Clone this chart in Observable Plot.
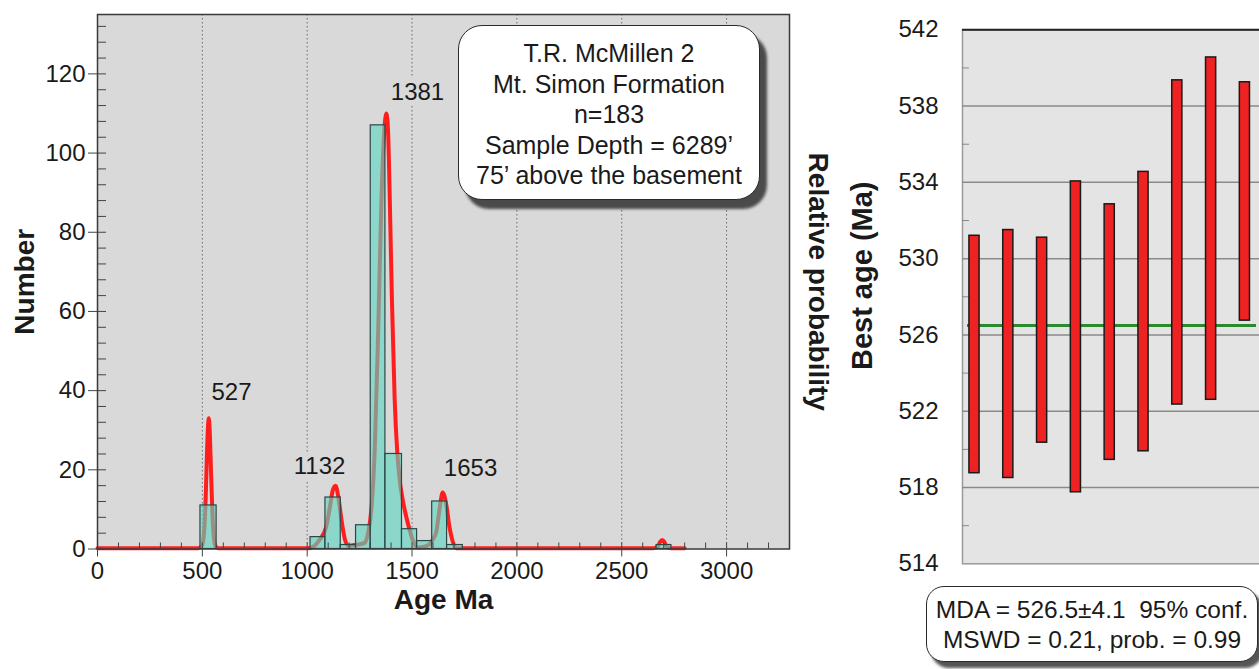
<!DOCTYPE html>
<html><head><meta charset="utf-8">
<script src="https://cdn.jsdelivr.net/npm/d3@7"></script>
<script src="https://cdn.jsdelivr.net/npm/@observablehq/plot@0.6"></script>
<style>
html,body{margin:0;padding:0;background:#fff;}
#wrap{position:relative;width:1259px;height:669px;overflow:hidden;font-family:"Liberation Sans",Arial,sans-serif;color:#1a1a1a;}
#wrap svg{position:absolute;top:0;}
.box{position:absolute;background:#fff;border:1.5px solid #2a2a2a;text-align:center;box-sizing:border-box;white-space:pre;}
</style></head><body><div id="wrap"></div>
<script>
// ---------- Left panel: detrital zircon age histogram + probability curve ----------
const binStart = [491, 1016, 1087, 1160, 1233, 1303, 1373, 1452, 1524, 1596, 1667, 2666];
const binEnd   = [568, 1087, 1160, 1233, 1303, 1373, 1452, 1524, 1596, 1667, 1742, 2737];
const binCount = [11, 3, 13, 1, 6, 107, 24, 5, 2, 12, 1, 1];

const curveAge  = [0, 480, 498, 508, 516, 522, 527, 531, 535, 540, 546, 553, 562, 575,
                   1005, 1035, 1060, 1090, 1108, 1122, 1135, 1148, 1163, 1180, 1196, 1222, 1250, 1275,
                   1290, 1306, 1322, 1338, 1354, 1368, 1378, 1386, 1394, 1404, 1417, 1430, 1442, 1457,
                   1473, 1490, 1505, 1528, 1560, 1585, 1600, 1615, 1631, 1646, 1662, 1678, 1694, 1712,
                   2650, 2672, 2683, 2693, 2703, 2714, 2735, 2800];
const curveProb = [0.2, 0.2, 0.8, 4, 13, 24, 31, 33, 30, 22, 12, 4, 0.8, 0.2,
                   0.2, 0.8, 2.4, 5.5, 10.5, 14.8, 16, 13.3, 7.5, 2.4, 0.8, 1.0, 1.2, 1.6,
                   4, 10, 25, 54, 88, 106, 110, 105, 88, 63, 38, 24, 17, 12,
                   8, 4.5, 2, 0.4, 0.6, 1.3, 2.5, 4.2, 10, 14.3, 11.6, 5.7, 1.9, 0.2,
                   0.2, 0.6, 1.8, 2.3, 1.8, 0.6, 0.2, 0.2];

const peakLabels   = ["527", "1132", "1381", "1653"];
const peakLabelAge = [639, 1059, 1526, 1779];
const peakLabelNum = [39.5, 20.8, 115.3, 20.3];

const ageTicks    = [0, 500, 1000, 1500, 2000, 2500, 3000];
const numberTicks = [0, 20, 40, 60, 80, 100, 120];

const sampleLines = ["T.R. McMillen 2", "Mt. Simon Formation", "n=183", "Sample Depth = 6289\u2019", "75\u2019 above the basement"];

// ---------- Right panel: youngest grains, best age with error ----------
const grainIndex = [1, 2, 3, 4, 5, 6, 7, 8, 9];
const grainHigh  = [531.2, 531.5, 531.1, 534.05, 532.85, 534.55, 539.35, 540.55, 539.25];
const grainLow   = [518.75, 518.5, 520.35, 517.75, 519.45, 519.9, 522.35, 522.6, 526.75];
const mdaValue   = 526.5;
const bestAgeTicks = [514, 518, 522, 526, 530, 534, 538, 542];
const mdaLines = ["MDA = 526.5\u00b14.1  95% conf.", "MSWD = 0.21, prob. = 0.99"];

// ---------- build ----------
const wrap = document.getElementById("wrap");
const FONT = "'Liberation Sans', Arial, Helvetica, sans-serif";

const bins = binStart.map((s, i) => ({x1: s, x2: binEnd[i], n: binCount[i]}));
const curve = curveAge.map((a, i) => ({age: a, p: curveProb[i]}));
const peaks = peakLabels.map((t, i) => ({t, x: peakLabelAge[i], y: peakLabelNum[i]}));
const minorAge = d3.range(100, 3300, 100);
const minorNum = d3.range(0, 135, 4);

const W1 = 840, H1 = 640, mL1 = 97, mR1 = 51, mT1 = 14, mB1 = 91.5;
const pw1 = W1 - mL1 - mR1, ph1 = H1 - mT1 - mB1;

const left = Plot.plot({
  width: W1, height: H1,
  marginLeft: mL1, marginRight: mR1, marginTop: mT1, marginBottom: mB1,
  x: {domain: [0, 3300]},
  y: {domain: [0, 135]},
  style: {fontFamily: FONT, fontSize: "24px", color: "#1a1a1a", background: "transparent", overflow: "visible"},
  marks: [
    Plot.frame({fill: "#d9d9d9"}),
    Plot.ruleX(ageTicks.slice(1), {stroke: "#6a6a6a", strokeDasharray: "1.5,2.5", strokeWidth: 1}),
    Plot.text(peaks, {x: "x", y: "y", text: "t", fontSize: 24, fill: "#1a1a1a", stroke: "#d9d9d9", strokeWidth: 12}),
    Plot.line(curve, {x: "age", y: "p", stroke: "#ff1e1e", strokeWidth: 4, curve: "monotone-x"}),
    Plot.rectY(bins, {x1: "x1", x2: "x2", y1: 0, y2: "n", fill: "#5ad6c2", fillOpacity: 0.62, stroke: "#2c4646", strokeWidth: 1.2}),
    Plot.tickY(minorNum, {y: d => d, insetRight: pw1 - 9, stroke: "#444"}),
    Plot.tickX(minorAge, {x: d => d, insetTop: ph1 - 6, stroke: "#444"}),
    Plot.frame({stroke: "#3a3a3a", strokeWidth: 1.5}),
    Plot.axisY({ticks: numberTicks, tickSize: 9, tickPadding: 3, tickFormat: d => String(d), label: null, fontSize: 24, stroke: "#444"}),
    Plot.axisX({ticks: ageTicks, tickSize: 8, tickPadding: 5, tickFormat: d => String(d), label: null, fontSize: 24, stroke: "#444"}),
    Plot.text(["Number"], {text: d => d, frameAnchor: "left", textAnchor: "middle", dx: -72, rotate: -90, fontSize: 28, fontWeight: "bold", fill: "#1a1a1a"}),
    Plot.text(["Age Ma"], {text: d => d, frameAnchor: "bottom", dy: 60, fontSize: 28, fontWeight: "bold", fill: "#1a1a1a"}),
    Plot.text(["Relative probability"], {text: d => d, frameAnchor: "right", textAnchor: "middle", dx: 28, rotate: 90, fontSize: 28, fontWeight: "bold", fill: "#1a1a1a"})
  ]
});
left.style.left = "0px";
wrap.appendChild(left);

const grains = grainIndex.map((g, i) => ({g, lo: grainLow[i], hi: grainHigh[i]}));
const W2 = 430, H2 = 580, mL2 = 122, mT2 = 29.3, mB2 = 580 - 563.3;
const pw2 = W2 - mL2;
const right = Plot.plot({
  width: W2, height: H2,
  marginLeft: mL2, marginRight: 0, marginTop: mT2, marginBottom: mB2,
  x: {domain: [0.645, 9.757], axis: null},
  y: {domain: [514, 542]},
  style: {fontFamily: FONT, fontSize: "24px", color: "#1a1a1a", background: "transparent", overflow: "visible"},
  marks: [
    Plot.frame({fill: "#e4e4e4", stroke: "#9a9a9a", strokeWidth: 1.5}),
    Plot.ruleY(bestAgeTicks.slice(1, -1), {stroke: "#8a8a8a", strokeWidth: 1.5}),
    Plot.ruleY([bestAgeTicks[bestAgeTicks.length - 1]], {stroke: "#222", strokeWidth: 2}),
    Plot.tickY(d3.range(516, 542, 4), {y: d => d, insetRight: pw2 - 7, stroke: "#888"}),
    Plot.ruleY([mdaValue], {stroke: "#2b8a2e", strokeWidth: 3, insetLeft: 5, insetRight: 14}),
    Plot.rect(grains, {x1: d => d.g - 0.15, x2: d => d.g + 0.15, y1: "lo", y2: "hi", fill: "#ee2222", stroke: "#1a1a1a", strokeWidth: 1.5}),
    Plot.axisY({ticks: bestAgeTicks, tickSize: 0, tickPadding: 24, tickFormat: d => String(d), label: null, fontSize: 24}),
    Plot.text(["Best age (Ma)"], {text: d => d, frameAnchor: "left", textAnchor: "middle", dx: -100, dy: -21, rotate: -90, fontSize: 29, fontWeight: "bold", fill: "#1a1a1a"})
  ]
});
right.style.left = "840px";
wrap.appendChild(right);

// annotation boxes
function makeBox(lines, css) {
  const div = document.createElement("div");
  div.className = "box";
  Object.assign(div.style, css);
  lines.forEach(l => { const s = document.createElement("div"); s.textContent = l; div.appendChild(s); });
  wrap.appendChild(div);
}
makeBox(sampleLines, {left: "458px", top: "25px", width: "302px", height: "175px", borderRadius: "24px",
  boxShadow: "7px 9px 3px #4a4a4a", fontSize: "25px", lineHeight: "30.5px", paddingTop: "12px"});
makeBox(mdaLines, {left: "926px", top: "586px", width: "332px", height: "76px", borderRadius: "18px",
  boxShadow: "5px 6px 3px #555", fontSize: "24.5px", lineHeight: "30px", paddingTop: "8px"});
</script></body></html>
